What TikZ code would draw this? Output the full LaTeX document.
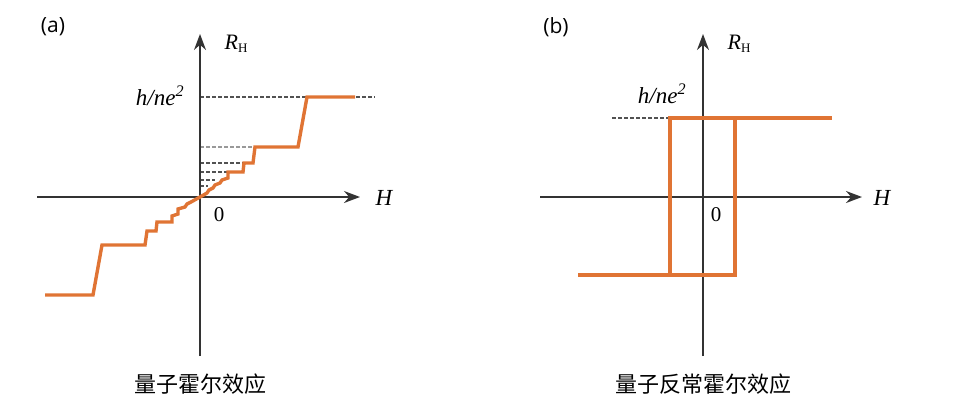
\documentclass[tikz,border=0pt]{standalone}
\usepackage{fontspec}
\setmainfont{Liberation Serif}
\newfontfamily\cjk{Noto Sans CJK SC}
\newfontfamily\sansf{Open Sans}
\usetikzlibrary{arrows.meta}
\definecolor{org}{HTML}{E07434}
\definecolor{axc}{HTML}{333333}
\tikzset{ax/.style={draw=axc,line width=1.7pt,-{Stealth[length=16pt,width=12pt]}},
 curve/.style={draw=org,line width=3.4pt,line join=miter},
 dsh/.style={draw=axc!85,line width=1.4pt,dash pattern=on 3.5pt off 2.5pt},
 lbl/.style={font=\fontsize{23}{26}\selectfont\itshape},
 captxt/.style={font=\cjk\fontsize{22}{26}\selectfont}}
\begin{document}
\begin{tikzpicture}[x=1pt,y=-1pt]
\useasboundingbox (0,0) rectangle (960,410);
% panel a
\draw[dsh] (200,97) -- (375,97);
\draw[dsh,draw=axc!50] (200,147) -- (255,147);
\draw[dsh] (200,163) -- (244,163);
\draw[dsh] (200,172) -- (228,172);
\draw[dsh] (200,180) -- (215,180);
\draw[dsh] (200,186) -- (208,186);
\draw[ax] (37,197) -- (360,197);
\draw[ax] (200,356) -- (200,34);
\draw[curve] (45,295) -- (93,295) -- (102,245) -- (145,245) -- (147,231) -- (156,231) -- (157,222) -- (172,222) -- (172,216) -- (178,214) -- (178,209) -- (185,207) -- (187,204) -- (191,202) -- (200,197) -- (207,193) -- (209,190) -- (213,188) -- (215,185) -- (220,183) -- (222,180) -- (228,178) -- (228,172) -- (243,172) -- (244,163) -- (253,163) -- (255,147) -- (298,147) -- (307,97) -- (355,97);
\node[font=\sansf\fontsize{21}{24}\selectfont] (la) at (53,27) {(a)};
\node[font=\fontsize{22}{24}\selectfont] (rha) at (236,44) {\textit{R}\raisebox{-0.35ex}{\fontsize{13}{15}\selectfont H}};
\node[lbl] (hna) at (160,96) {h/ne\textsuperscript{2}};
\node[font=\fontsize{21}{24}\selectfont] (za) at (219,215) {0};
\node[lbl] (Ha) at (384,198) {H};
\node[captxt] (ca) at (200,384) {量子霍尔效应};
% panel b
\draw[dsh] (612,118) -- (670,118);
\draw[ax] (540,197) -- (862,197);
\draw[ax] (703,356) -- (703,34);
\draw[curve] (578,275) -- (735,275) -- (735,118) -- (832,118);
\draw[curve] (670,275) -- (670,118) -- (735,118);
\node[font=\sansf\fontsize{21}{24}\selectfont] (lb) at (556,27) {(b)};
\node[font=\fontsize{22}{24}\selectfont] (rhb) at (739,44) {\textit{R}\raisebox{-0.35ex}{\fontsize{13}{15}\selectfont H}};
\node[lbl] (hnb) at (662,94) {h/ne\textsuperscript{2}};
\node[font=\fontsize{21}{24}\selectfont] (zb) at (716,215) {0};
\node[lbl] (Hb) at (882,198) {H};
\node[captxt] (cb) at (703,384) {量子反常霍尔效应};
\end{tikzpicture}
\end{document}
